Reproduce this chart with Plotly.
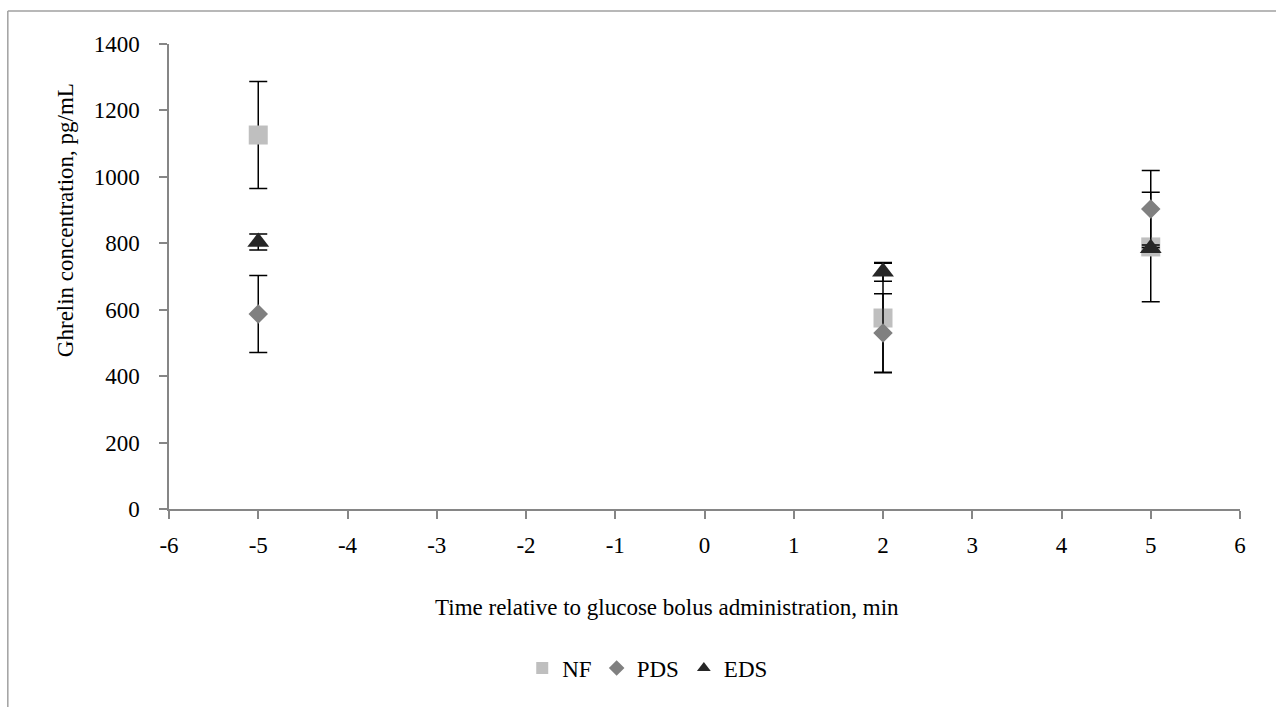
import plotly.graph_objects as go

series_names = ["NF", "PDS", "EDS"]
times = [-5, 2, 5]
nf_values = [1126, 575, 789]
nf_err = [161, 165, 165]
pds_values = [587, 530, 903]
pds_err = [116, 118, 116]
eds_values = [804, 714, 785]
eds_err = [24, 28, 10]

x_ticks = list(range(-6, 7))
y_ticks = list(range(0, 1401, 200))

colors = ["#BFBFBF", "#808080", "#262626"]
symbols = ["square", "diamond", "triangle-up"]
sizes = [19, 15, 19]

values = [nf_values, pds_values, eds_values]
errors = [nf_err, pds_err, eds_err]

fig = go.Figure()
for name, v, e, c, s, sz in zip(series_names, values, errors, colors, symbols, sizes):
    fig.add_trace(go.Scatter(
        x=times, y=v, mode="markers", name=name,
        marker=dict(color=c, symbol=s, size=sz, line=dict(width=0)),
        error_y=dict(type="data", array=e, visible=True, color="#000000",
                     thickness=1.5, width=9),
    ))

font_family = "Liberation Serif, DejaVu Serif, serif"
axis_color = "#868686"
fs = 23

fig.update_layout(
    width=1276, height=707,
    margin=dict(l=169, r=36, t=44, b=198),
    paper_bgcolor="white", plot_bgcolor="white",
    font=dict(family=font_family, size=fs, color="#000000"),
    showlegend=True,
    legend=dict(orientation="h", x=0.447, xanchor="center", y=-0.342, yanchor="middle",
                font=dict(family=font_family, size=fs, color="#000000"),
                itemsizing="constant", traceorder="normal", itemwidth=30),
    xaxis=dict(
        range=[-6, 6], tickmode="array", tickvals=x_ticks,
        ticktext=[str(t) for t in x_ticks],
        showgrid=False, zeroline=False, showline=True, linecolor=axis_color, linewidth=1.5,
        ticks="outside", ticklen=8, tickcolor=axis_color, tickwidth=1.5,
        ticklabelstandoff=7,
    ),
    yaxis=dict(
        range=[0, 1400], tickmode="array", tickvals=y_ticks,
        showgrid=False, zeroline=False, showline=True, linecolor=axis_color, linewidth=1.5,
        ticks="outside", ticklen=8, tickcolor=axis_color, tickwidth=1.5,
        ticklabelstandoff=15,
    ),
    annotations=[
        dict(text="Time relative to glucose bolus administration, min", xref="paper", yref="paper",
             x=0.4654, y=-0.2129, xanchor="center", yanchor="middle", showarrow=False,
             font=dict(family=font_family, size=fs)),
        dict(text="Ghrelin concentration, pg/mL", xref="paper", yref="paper",
             x=-0.0972, y=0.621, xanchor="center", yanchor="middle", showarrow=False,
             textangle=-90, font=dict(family=font_family, size=fs)),
    ],
    shapes=[
        dict(type="line", xref="paper", yref="paper", x0=-0.1505, x1=1.2, y0=1.071, y1=1.071,
             line=dict(color="#A0A0A0", width=1.5)),
        dict(type="line", xref="paper", yref="paper", x0=-0.1505, x1=-0.1505, y0=-1, y1=1.071,
             line=dict(color="#A0A0A0", width=1.5)),
    ],
)

fig.write_html("out.html")
